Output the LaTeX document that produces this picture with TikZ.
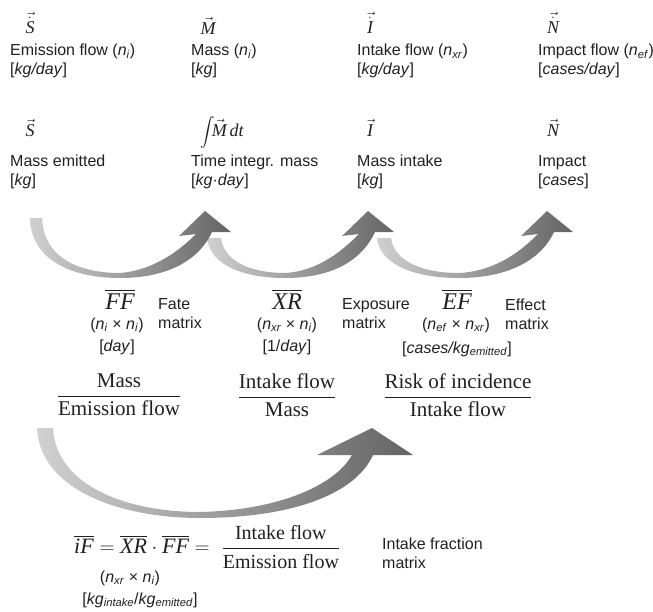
\documentclass[tikz,border=0pt]{standalone}
\usepackage{amsmath}
\usepackage{fontspec}
\setmainfont{Liberation Serif}
\setsansfont{Liberation Sans}
\usepackage{tikz}
\definecolor{ink}{RGB}{35,31,32}
\definecolor{swooshlight}{RGB}{208,208,208}
\definecolor{swooshdark}{RGB}{100,100,100}

\begin{document}
\begin{tikzpicture}[x=1pt, y=-1pt,
  lbl/.style={anchor=west, align=left, inner sep=0pt, text=ink, font=\sffamily\fontsize{16}{19}\selectfont},
  sym/.style={anchor=base, inner sep=0pt, text=ink, font=\fontsize{18}{21}\selectfont},
  ovl/.style={inner sep=0pt, text=ink, font=\fontsize{24}{28}\selectfont},
  unit/.style={inner sep=0pt, text=ink, font=\sffamily\fontsize{16}{19}\selectfont},
  frac/.style={inner sep=0pt, text=ink, font=\fontsize{21}{25}\selectfont},
  swoosh/.style={left color=swooshlight, right color=swooshdark}]
  \useasboundingbox (0,0) rectangle (653,611);

  % flows
  \node[sym] (sdot) at (30,33) {$\vec{\dot{\textit{S}}}$};
  \node[sym] (mvec) at (208,34) {$\vec{\textit{M}}$};
  \node[sym] (idot) at (370,33) {$\vec{\dot{\textit{I}}}$};
  \node[sym] (ndot) at (553,33) {$\vec{\dot{\textit{N}}}$};
  \node[lbl] (emflow) at (10,61) {Emission flow (\textit{n}\textsubscript{\textit{i}})\\{}[\textit{kg/day}]};
  \node[lbl] (mass) at (191,61) {Mass (\textit{n}\textsubscript{\textit{i}})\\{}[\textit{kg}]};
  \node[lbl] (inflow) at (357,61) {Intake flow (\textit{n}\textsubscript{\textit{xr}})\\{}[\textit{kg/day}]};
  \node[lbl] (imflow) at (538,61) {Impact flow (\textit{n}\textsubscript{\textit{ef}})\\{}[\textit{cases/day}]};

  % amounts
  \node[sym] (svec) at (30,136) {$\vec{\textit{S}}$};
  \node[sym] (mint) at (222,136) {{\fontsize{14}{16}\selectfont$\displaystyle\int$}$\!\vec{\textit{M}}\,\textit{dt}$};
  \node[sym] (ivec) at (370,136) {$\vec{\textit{I}}$};
  \node[sym] (nvec) at (553,136) {$\vec{\textit{N}}$};
  \node[lbl] (emitted) at (10,172) {Mass emitted\\{}[\textit{kg}]};
  \node[lbl] (timeint) at (191,172) {Time integr. mass\\{}[\textit{kg}·\textit{day}]};
  \node[lbl] (intake) at (357,172) {Mass intake\\{}[\textit{kg}]};
  \node[lbl] (impact) at (538,172) {Impact\\{}[\textit{cases}]};

  % swooshes, last one first
  \shade[swoosh] (377,238) .. controls (380,266) and (417,278) .. (459,278)
    .. controls (505,278) and (540,262) .. (554,232) -- (573,232) -- (547,211) -- (521,236) -- (538,234)
    .. controls (524,248) and (498,271) .. (459,273) .. controls (424,273) and (394,262) .. (391,238) -- cycle;
  \shade[swoosh] (207,238) .. controls (210,266) and (245,278) .. (285,278)
    .. controls (330,278) and (361,262) .. (375,232) -- (394,232) -- (368,211) -- (342,236) -- (359,234)
    .. controls (345,248) and (320,271) .. (285,273) .. controls (252,273) and (224,262) .. (221,238) -- cycle;
  \shade[swoosh] (30,218) .. controls (31,262) and (75,278) .. (120,278)
    .. controls (165,278) and (198,262) .. (212,232) -- (231,232) -- (205,211) -- (179,236) -- (196,234)
    .. controls (182,248) and (156,270) .. (120,273) .. controls (82,273) and (44,260) .. (42,218) -- cycle;
  \shade[swoosh] (37,428) .. controls (40,490) and (120,518) .. (200,518)
    .. controls (290,518) and (355,495) .. (373,455) -- (413,455) -- (372,428) -- (317,455) -- (352,455)
    .. controls (335,485) and (280,510) .. (200,512) .. controls (125,512) and (56,485) .. (53,428) -- cycle;

  % matrices
  \node[ovl] (ff) at (120,299) {$\overline{\textit{FF}}$};
  \node[unit] (ffdim) at (117,325) {(\textit{n}\textsubscript{\textit{i}} × \textit{n}\textsubscript{\textit{i}})};
  \node[unit] (ffunit) at (117,347) {[\textit{day}]};
  \node[lbl] (fate) at (158,314) {Fate\\matrix};
  \node[frac] (fffrac) at (119,395) {$\dfrac{\text{Mass}}{\text{Emission flow}}$};

  \node[ovl] (xr) at (287,299) {$\overline{\textit{XR}}$};
  \node[unit] (xrdim) at (287,325) {(\textit{n}\textsubscript{\textit{xr}} × \textit{n}\textsubscript{\textit{i}})};
  \node[unit] (xrunit) at (287,347) {[1/\textit{day}]};
  \node[lbl] (expo) at (342,314) {Exposure\\matrix};
  \node[frac] (xrfrac) at (287,395) {$\dfrac{\text{Intake flow}}{\text{Mass}}$};

  \node[ovl] (ef) at (457,299) {$\overline{\textit{EF}}$};
  \node[unit] (efdim) at (456,325) {(\textit{n}\textsubscript{\textit{ef}} × \textit{n}\textsubscript{\textit{xr}})};
  \node[unit] (efunit) at (457,349) {[\textit{cases/kg}\textsubscript{\textit{emitted}}]};
  \node[lbl] (effect) at (505,314) {Effect\\matrix};
  \node[frac] (effrac) at (458,395) {$\dfrac{\text{Risk of incidence}}{\text{Intake flow}}$};

  % intake fraction
  \node[inner sep=0pt, text=ink, font=\fontsize{22}{26}\selectfont, anchor=west] (iform) at (74,547)
    {$\overline{\textit{iF}} = \overline{\textit{XR}}\cdot\overline{\textit{FF}} =$\hspace{12pt}%
    {\fontsize{20}{24}\selectfont$\dfrac{\text{Intake flow}}{\text{Emission flow}}$}};
  \node[unit] (ifdim) at (130,578) {(\textit{n}\textsubscript{\textit{xr}} × \textit{n}\textsubscript{\textit{i}})};
  \node[unit] (ifunit) at (140,600) {[\textit{kg}\textsubscript{\textit{intake}}/\textit{kg}\textsubscript{\textit{emitted}}]};
  \node[lbl] (iflbl) at (382,553) {Intake fraction\\matrix};
\end{tikzpicture}
\end{document}
